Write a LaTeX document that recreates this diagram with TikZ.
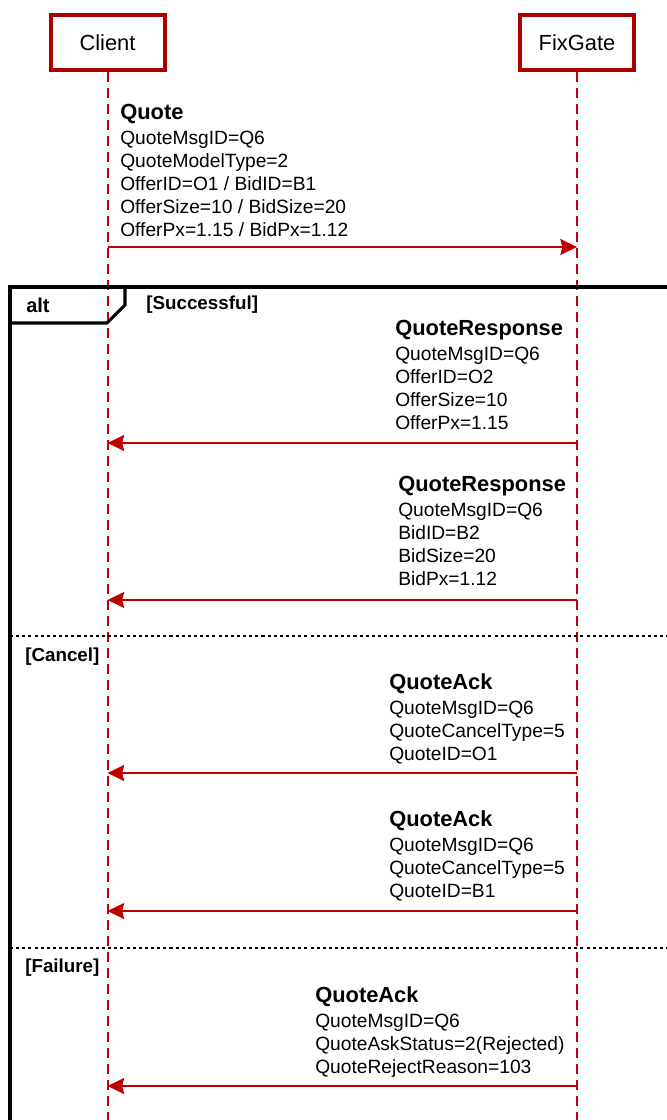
\documentclass[tikz,border=0pt]{standalone}
\usepackage{fontspec}
\setmainfont{Liberation Sans}
\usetikzlibrary{arrows.meta,positioning,calc}
\definecolor{seqBoxRed}{RGB}{170,0,0}
\definecolor{seqLineRed}{RGB}{190,0,0}
\definecolor{seqFrame}{RGB}{0,0,0}
\newcommand{\msgtitle}[1]{{\fontsize{16.4}{17}\selectfont\bfseries #1}\\[1.5pt]}
\tikzset{
  actorbox/.style={rectangle, draw=seqBoxRed, fill=white, line width=3pt,
    minimum width=85.5pt, minimum height=41pt, align=center,
    font=\fontsize{16.4}{18}\selectfont, inner sep=2pt},
  lifeline/.style={draw=seqLineRed, line width=1.5pt, dash pattern=on 7.5pt off 4.5pt},
  msglabel/.style={anchor=north west, align=left, inner sep=0pt,
    font=\fontsize{14.4}{17.3}\selectfont},
  msgarrow/.style={-{Stealth[length=12.5pt,width=12pt,inset=1.5pt]}, draw=seqLineRed, line width=1.1pt},
  altframe/.style={draw=seqFrame, line width=2.3pt},
  altsep/.style={draw=seqFrame, line width=1.1pt, dash pattern=on 2.3pt off 2.3pt},
  guardlabel/.style={anchor=west, inner sep=0pt, font=\fontsize{14.1}{16}\selectfont\bfseries},
}

\begin{document}
\begin{tikzpicture}[x=0.75pt,y=-0.75pt]
  \useasboundingbox (0,0) rectangle (667,1120);
  \clip (0,0) rectangle (667,1120);

  % --- Participants and lifelines ---
  \node[actorbox] (client) at (107.5,42.5) {Client};
  \node[actorbox] (fixgate) at (577,42.5) {FixGate};
  \coordinate (clientEnd) at (107.5,1125);
  \coordinate (fixgateEnd) at (577,1125);
  \draw[lifeline] (client.south) -- (clientEnd);
  \draw[lifeline] (fixgate.south) -- (fixgateEnd);

  % --- Quote request ---
  \node[msglabel] (quote) at (120,104)
    {\msgtitle{Quote}QuoteMsgID=Q6\\QuoteModelType=2\\OfferID=O1 / BidID=B1\\OfferSize=10 / BidSize=20\\OfferPx=1.15 / BidPx=1.12};
  \draw[msgarrow] (client |- 0,247) -- (fixgate |- 0,247);

  % --- alt frame ---
  \coordinate (frameTL) at (10,287);
  \coordinate (frameBL) at (10,1130);
  \coordinate (frameTR) at (680,287);
  \draw[altframe] (frameBL) -- (frameTL) -- (frameTR);
  \draw[altframe] (frameTL) -- (125,287) -- (125,305) -- (107,323) -- (10,323);
  \node[guardlabel, font=\fontsize{15}{16}\selectfont\bfseries] (altlbl) at (26,305) {alt};
  \node[guardlabel] (succ) at (146,305) {[Successful]};

  % --- Successful ---
  \node[msglabel] (resp1) at (395,320)
    {\msgtitle{QuoteResponse}QuoteMsgID=Q6\\OfferID=O2\\OfferSize=10\\OfferPx=1.15};
  \draw[msgarrow] (fixgate |- 0,443) -- (client |- 0,443);

  \node[msglabel] (resp2) at (398,476)
    {\msgtitle{QuoteResponse}QuoteMsgID=Q6\\BidID=B2\\BidSize=20\\BidPx=1.12};
  \draw[msgarrow] (fixgate |- 0,600) -- (client |- 0,600);

  % --- Cancel ---
  \draw[altsep] (frameTL |- 0,636) -- (frameTR |- 0,636);
  \node[guardlabel] (cancel) at (25,657) {[Cancel]};

  \node[msglabel] (ack1) at (389,673)
    {\msgtitle{QuoteAck}QuoteMsgID=Q6\\QuoteCancelType=5\\QuoteID=O1};
  \draw[msgarrow] (fixgate |- 0,773) -- (client |- 0,773);

  \node[msglabel] (ack2) at (389,810)
    {\msgtitle{QuoteAck}QuoteMsgID=Q6\\QuoteCancelType=5\\QuoteID=B1};
  \draw[msgarrow] (fixgate |- 0,911) -- (client |- 0,911);

  % --- Failure ---
  \draw[altsep] (frameTL |- 0,948) -- (frameTR |- 0,948);
  \node[guardlabel] (fail) at (25,968) {[Failure]};

  \node[msglabel] (ack3) at (315,986)
    {\msgtitle{QuoteAck}QuoteMsgID=Q6\\QuoteAskStatus=2(Rejected)\\QuoteRejectReason=103};
  \draw[msgarrow] (fixgate |- 0,1086) -- (client |- 0,1086);
\end{tikzpicture}
\end{document}
